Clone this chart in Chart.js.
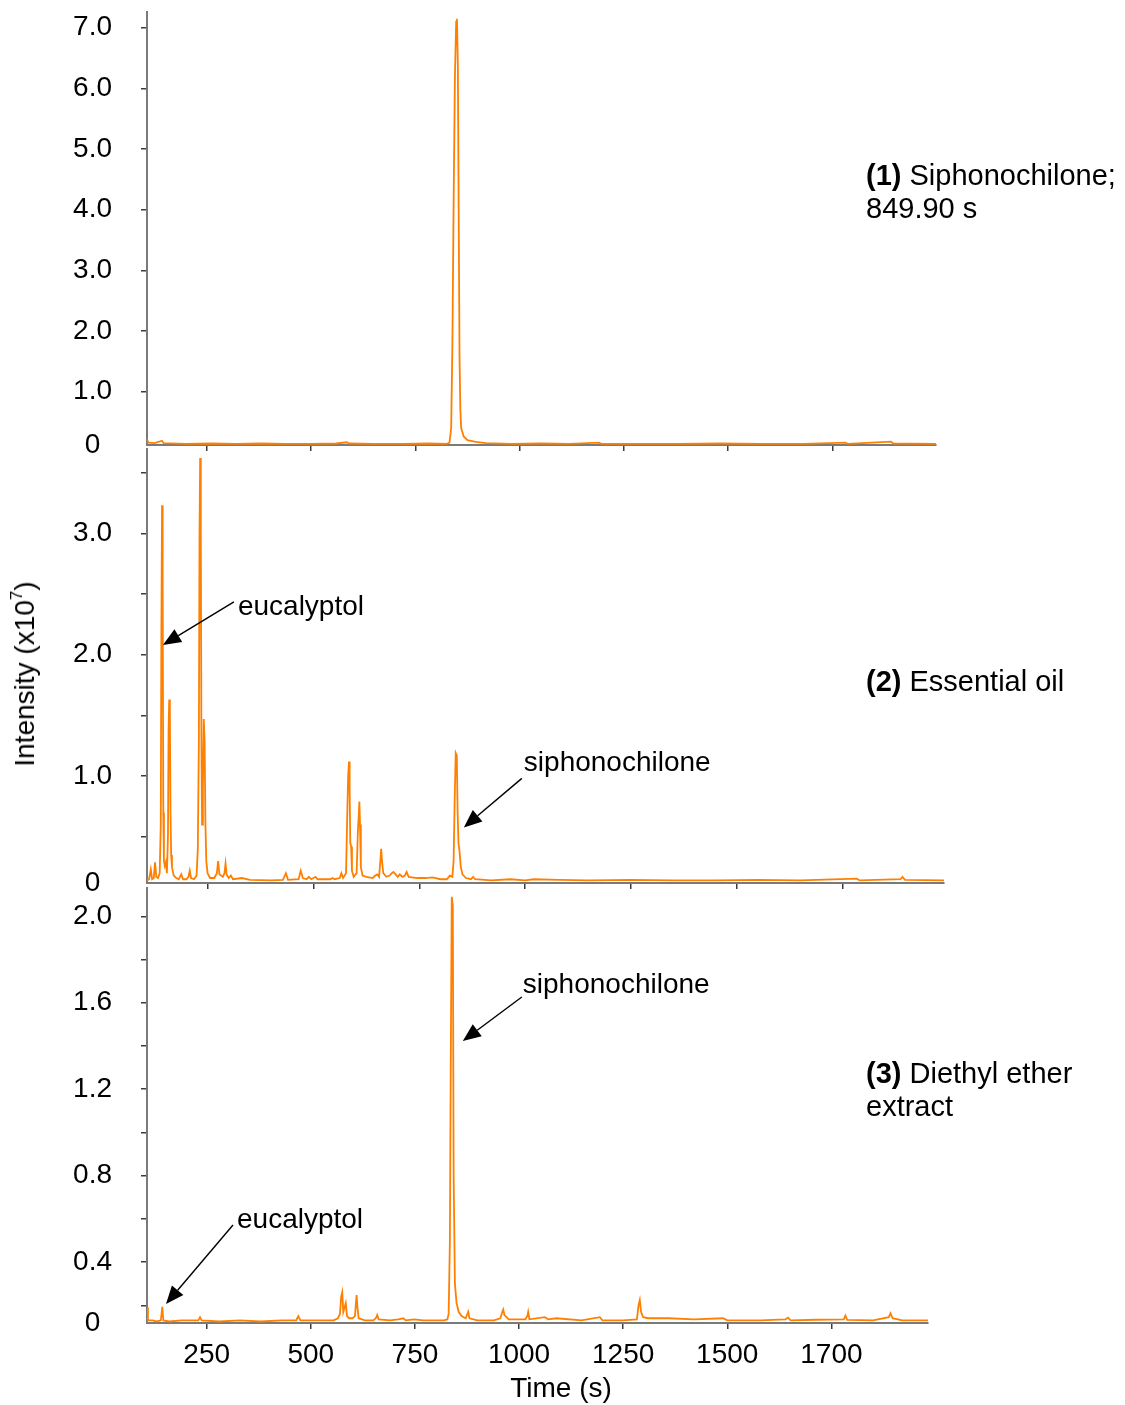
<!DOCTYPE html>
<html>
<head>
<meta charset="utf-8">
<script src="https://cdn.jsdelivr.net/npm/chart.js@4.4.0/dist/chart.umd.min.js"></script>
<style>
  html, body { margin: 0; padding: 0; background: #fff; }
  #page { position: relative; width: 1125px; height: 1405px; font-family: 'Liberation Sans', Arial, sans-serif; color: #000; }
  canvas { position: absolute; left: 0; }
  .note { position: absolute; left: 866px; font-size: 29px; line-height: 33px; white-space: nowrap; }
  #ytitle { position: absolute; left: 25px; top: 674px; font-size: 28px; white-space: nowrap;
            transform: translate(-50%, -50%) rotate(-90deg); }
  #ytitle sup { font-size: 17px; vertical-align: 12px; line-height: 0; }
  #xtitle { position: absolute; left: 561px; top: 1371px; font-size: 28px; line-height: 34px;
            transform: translateX(-50%); white-space: nowrap; }
</style>
</head>
<body>
<div id="page">
  <canvas id="pure" width="960" height="460" style="top:0px"></canvas>
  <canvas id="oil" width="960" height="460" style="top:440px"></canvas>
  <canvas id="ether" width="960" height="525" style="top:880px"></canvas>

  <div class="note" style="top:159px"><b>(1)</b> Siphonochilone;<br>849.90 s</div>
  <div class="note" style="top:665px"><b>(2)</b> Essential oil</div>
  <div class="note" style="top:1057px"><b>(3)</b> Diethyl ether<br>extract</div>
  <div id="ytitle">Intensity (x10<sup>7</sup>)</div>
  <div id="xtitle">Time (s)</div>
</div>

<script>
// retention time axis (s)
const timeTicks = [250, 500, 750, 1000, 1250, 1500, 1750];
const timeTickLabels = ['250', '500', '750', '1000', '1250', '1500', '1700'];

// (1) pure siphonochilone, intensity x10^7
const pureTimes = [107, 110, 125, 143, 147, 200, 260, 320, 380, 440, 500, 560, 586, 592, 650, 720, 780,
  826, 832, 836, 839, 842, 845, 848, 849.9, 852, 854, 856, 858, 860, 866, 875, 895, 920, 980, 1050,
  1120, 1190, 1196, 1280, 1380, 1480, 1580, 1680, 1781, 1786, 1890, 1896, 1998];
const pureIntensity = [0.22, 0.16, 0.15, 0.19, 0.15, 0.14, 0.145, 0.14, 0.145, 0.14, 0.14, 0.145, 0.165, 0.145, 0.14, 0.14, 0.145,
  0.14, 0.16, 0.4, 1.8, 4.2, 6.2, 7.1, 7.15, 6.4, 4.0, 1.6, 0.7, 0.4, 0.26, 0.2, 0.17, 0.15, 0.14, 0.145,
  0.14, 0.16, 0.14, 0.14, 0.14, 0.145, 0.14, 0.14, 0.16, 0.14, 0.175, 0.145, 0.14];
const pureYTicks = [0.12, 1, 2, 3, 4, 5, 6, 7];
const pureYLabels = ['0', '1.0', '2.0', '3.0', '4.0', '5.0', '6.0', '7.0'];

// (2) essential oil
const oilTimes = [107, 112, 116, 119, 123, 126, 129, 133, 137, 139.5, 141, 142.5, 144, 145.5, 147, 149, 151.5, 154,
  156.5, 158, 159.5, 161, 162.5, 164, 166, 170, 176, 182, 188, 192, 200, 205, 208, 211, 218, 224, 227, 229.5,
  231, 232.5, 234, 235.5, 237, 239, 241, 243, 245, 247, 250, 256, 266, 272, 275, 278, 286, 290, 292.5, 295,
  300, 305, 310, 331, 350, 400, 428, 435, 440, 465, 470, 475, 484, 489, 495, 505, 510, 540, 545, 550, 562,
  566, 570, 577, 580, 582, 584, 585.5, 587, 589, 591, 595, 602, 605, 607, 608.5, 610, 612, 616, 625, 640,
  646, 651, 655, 658, 660, 662, 665, 672, 680, 685, 689, 694, 699, 704, 710, 716, 720, 725, 745, 765, 781,
  800, 815, 822, 828, 831, 833.5, 836, 838.5, 840.5, 842.5, 845, 848, 852, 860, 872, 877, 882, 920, 965,
  1000, 1020, 1080, 1150, 1250, 1350, 1450, 1550, 1650, 1783, 1790, 1886, 1891, 1897, 1989];
const oilIntensity = [0.14, 0.15, 0.23, 0.15, 0.16, 0.29, 0.17, 0.16, 0.2, 0.6, 2.2, 3.23, 2.6, 0.7, 0.3, 0.26, 0.29, 0.2,
  0.5, 1.4, 1.63, 1.5, 0.7, 0.35, 0.25, 0.18, 0.16, 0.15, 0.19, 0.15, 0.15, 0.17, 0.22, 0.16, 0.15, 0.18, 0.4, 1.3,
  3.0, 3.62, 3.1, 1.3, 0.6, 0.9, 1.47, 1.3, 0.6, 0.3, 0.2, 0.16, 0.16, 0.2, 0.3, 0.19, 0.17, 0.2, 0.28, 0.19,
  0.16, 0.18, 0.15, 0.16, 0.145, 0.14, 0.145, 0.2, 0.145, 0.15, 0.22, 0.16, 0.15, 0.17, 0.15, 0.17, 0.15, 0.15, 0.16, 0.15, 0.16,
  0.2, 0.16, 0.2, 0.7, 1.0, 1.12, 0.9, 0.45, 0.42, 0.22, 0.17, 0.2, 0.55, 0.67, 0.79, 0.6, 0.25, 0.18, 0.17, 0.16,
  0.18, 0.19, 0.17, 0.3, 0.4, 0.3, 0.2, 0.17, 0.18, 0.2, 0.21, 0.19, 0.17, 0.19, 0.17, 0.18, 0.21, 0.17, 0.16, 0.16, 0.165,
  0.15, 0.15, 0.18, 0.17, 0.3, 0.8, 1.19, 1.17, 0.7, 0.45, 0.38, 0.25, 0.19, 0.16, 0.15, 0.17, 0.15, 0.14, 0.15,
  0.14, 0.15, 0.145, 0.14, 0.145, 0.14, 0.14, 0.145, 0.14, 0.155, 0.14, 0.15, 0.17, 0.145, 0.14];
const oilYTicks = [0.119, 0.5, 1, 1.5, 2, 2.5, 3, 3.5];
const oilYLabels = ['0', '', '1.0', '', '2.0', '', '3.0', ''];

// (3) diethyl ether extract
const etherTimes = [107, 109, 120, 130, 140, 143.4, 146, 160, 190, 230, 234, 238, 280, 330, 380, 430, 465, 470, 475,
  520, 555, 565, 570, 573, 575.5, 578, 581, 584, 587, 592, 600, 606, 608, 610, 612, 615, 630, 650, 656, 659.5,
  663, 690, 710, 722, 728, 748, 770, 800, 820, 828, 831, 834, 836, 838.5, 841, 843, 846, 850, 855, 862, 872,
  875, 878, 881, 900, 940, 955, 960, 962, 965, 970, 975, 1015, 1020, 1022, 1025, 1062, 1070, 1090, 1150, 1194,
  1200, 1250, 1283, 1287, 1290, 1293, 1298, 1310, 1360, 1420, 1490, 1500, 1580, 1640, 1646, 1652, 1714, 1780,
  1783.6, 1788, 1850, 1888, 1892, 1897, 1920, 1982];
const etherIntensity = [0.19, 0.13, 0.13, 0.125, 0.13, 0.193, 0.13, 0.125, 0.13, 0.13, 0.145, 0.13, 0.125, 0.13, 0.125, 0.13, 0.13, 0.15, 0.13,
  0.13, 0.13, 0.14, 0.16, 0.24, 0.26, 0.17, 0.19, 0.21, 0.15, 0.14, 0.14, 0.15, 0.2, 0.247, 0.19, 0.14, 0.13, 0.13, 0.14, 0.155,
  0.135, 0.13, 0.135, 0.14, 0.13, 0.135, 0.13, 0.13, 0.13, 0.135, 0.16, 0.5, 1.3, 2.09, 2.05, 0.8, 0.3, 0.21, 0.17, 0.15, 0.14,
  0.155, 0.17, 0.14, 0.13, 0.13, 0.14, 0.17, 0.18, 0.155, 0.145, 0.135, 0.135, 0.15, 0.17, 0.135, 0.145, 0.135, 0.14, 0.13, 0.145,
  0.13, 0.13, 0.135, 0.2, 0.224, 0.17, 0.145, 0.14, 0.14, 0.135, 0.14, 0.13, 0.13, 0.135, 0.143, 0.13, 0.133, 0.135,
  0.152, 0.132, 0.13, 0.145, 0.163, 0.14, 0.13, 0.13];
const etherYTicks = [0.118, 0.2, 0.4, 0.6, 0.8, 1.0, 1.2, 1.4, 1.6, 1.8, 2.0];
const etherYLabels = ['0', '', '0.4', '', '0.8', '', '1.2', '', '1.6', '', '2.0'];

// peak callouts: arrow tip at (time, intensity), tail offset and text offset in px
const oilCallouts = [
  { time: 144.6, value: 2.08, dx: 71, dy: -43, text: 'eucalyptol', lx: 4, ly: 13 },
  { time: 855.2, value: 0.577, dx: 58, dy: -49, text: 'siphonochilone', lx: 2, ly: -7 }
];
const etherCallouts = [
  { time: 865, value: 1.423, dx: 59, dy: -44, text: 'siphonochilone', lx: 1, ly: -4 },
  { time: 152.3, value: 0.206, dx: 67, dy: -79, text: 'eucalyptol', lx: 4, ly: 3 }
];

const FONT = "'Liberation Sans', Arial, sans-serif";
const AXIS = '#7a7a7a';
const TICK = '#3c3c3c';

const calloutPlugin = {
  id: 'callouts',
  afterDatasetsDraw(chart, args, opts) {
    const { ctx, scales: { x, y } } = chart;
    (opts.items || []).forEach(c => {
      const tx = x.getPixelForValue(c.time);
      const ty = y.getPixelForValue(c.value);
      const sx = tx + c.dx, sy = ty + c.dy;
      const ang = Math.atan2(ty - sy, tx - sx);
      const head = 18, half = 7.5;
      const bx = tx - head * Math.cos(ang), by = ty - head * Math.sin(ang);
      ctx.save();
      ctx.strokeStyle = '#000';
      ctx.fillStyle = '#000';
      ctx.lineWidth = 1.4;
      ctx.beginPath();
      ctx.moveTo(sx, sy);
      ctx.lineTo(bx, by);
      ctx.stroke();
      ctx.beginPath();
      ctx.moveTo(tx, ty);
      ctx.lineTo(bx + half * Math.sin(ang), by - half * Math.cos(ang));
      ctx.lineTo(bx - half * Math.sin(ang), by + half * Math.cos(ang));
      ctx.closePath();
      ctx.fill();
      ctx.font = '28px ' + FONT;
      ctx.textBaseline = 'alphabetic';
      ctx.textAlign = 'left';
      ctx.fillText(c.text, sx + c.lx, sy + c.ly);
      ctx.restore();
    });
  }
};

function chromatogram(id, times, values, o) {
  return new Chart(document.getElementById(id), {
    type: 'scatter',
    data: {
      datasets: [{
        data: times.map((t, i) => ({ x: t, y: values[i] })),
        showLine: true,
        borderColor: '#ff8000',
        borderWidth: 1.8,
        pointRadius: 0,
        tension: 0
      }]
    },
    options: {
      responsive: false,
      animation: false,
      devicePixelRatio: 1,
      layout: { padding: { top: o.top, right: o.right, left: 0, bottom: 0 } },
      plugins: {
        legend: { display: false },
        tooltip: { enabled: false },
        callouts: { items: o.callouts || [] }
      },
      scales: {
        x: {
          type: 'linear',
          min: o.xMin,
          max: o.xMax,
          afterBuildTicks: s => { s.ticks = timeTicks.map(v => ({ value: v })); },
          afterFit: s => { s.height = o.xHeight; s.paddingLeft = 0; s.paddingRight = 0; },
          border: { color: AXIS, width: 2 },
          grid: { drawOnChartArea: false, drawTicks: true, tickLength: 6, color: TICK, lineWidth: 1.5 },
          ticks: {
            display: !!o.timeLabels,
            autoSkip: false, maxRotation: 0, padding: 9,
            color: '#000', font: { family: FONT, size: 28 },
            callback: (v, i) => timeTickLabels[i]
          }
        },
        y: {
          min: o.yTicks[0],
          max: o.yMax,
          afterBuildTicks: s => { s.ticks = o.yTicks.map(v => ({ value: v })); },
          afterFit: s => { s.width = 147; s.paddingTop = 0; s.paddingBottom = 0; },
          border: { color: AXIS, width: 2 },
          grid: {
            drawOnChartArea: false, drawTicks: true, tickLength: 6, lineWidth: 1.5,
            color: c => (c.index === 0 ? 'rgba(0,0,0,0)' : TICK)
          },
          ticks: {
            autoSkip: false, padding: 29, crossAlign: 'center',
            color: '#000', font: { family: FONT, size: 28 },
            callback: (v, i) => o.yLabels[i]
          }
        }
      }
    },
    plugins: [calloutPlugin]
  });
}

chromatogram('pure', pureTimes, pureIntensity, {
  top: 12, right: 24, xHeight: 15, xMin: 107, xMax: 1998,
  yTicks: pureYTicks, yLabels: pureYLabels, yMax: 7.26
});
chromatogram('oil', oilTimes, oilIntensity, {
  top: 9, right: 16, xHeight: 17, xMin: 107, xMax: 1989,
  yTicks: oilYTicks, yLabels: oilYLabels, yMax: 3.694, callouts: oilCallouts
});
chromatogram('ether', etherTimes, etherIntensity, {
  top: 8, right: 32, xHeight: 82, xMin: 106.7, xMax: 1982,
  yTicks: etherYTicks, yLabels: etherYLabels, yMax: 2.131, callouts: etherCallouts, timeLabels: true
});
</script>
</body>
</html>
